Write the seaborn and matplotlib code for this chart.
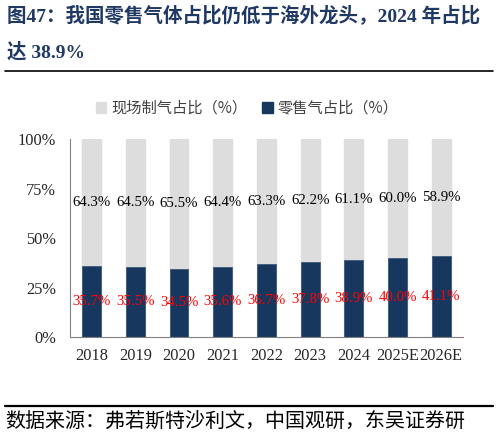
import matplotlib
matplotlib.use('Agg')
import matplotlib.pyplot as plt
import pandas as pd
import seaborn as sns
from matplotlib.lines import Line2D
from matplotlib.patches import Patch

# Dados do gráfico
years = ['2018', '2019', '2020', '2021', '2022', '2023', '2024', '2025E', '2026E']
retail = [35.7, 35.5, 34.5, 35.6, 36.7, 37.8, 38.9, 40.0, 41.1]
onsite = [64.3, 64.5, 65.5, 64.4, 63.3, 62.2, 61.1, 60.0, 58.9]
y_ticks = [0, 25, 50, 75, 100]
y_tick_labels = ['0%', '25%', '50%', '75%', '100%']

df = pd.DataFrame({'year': years, 'retail': retail, 'onsite': onsite})
df['total'] = df['retail'] + df['onsite']

sns.set_style('white')
plt.rcParams['font.family'] = ['Liberation Serif', 'Noto Sans CJK SC', 'DejaVu Sans']
cjk = ['Noto Sans CJK SC', 'DejaVu Sans']
mix = ['Liberation Serif', 'Noto Sans CJK SC', 'DejaVu Sans']

navy = '#17375E'
grey = '#DDDDDD'

fig = plt.figure(figsize=(4.99, 4.38), dpi=100)
ax = fig.add_axes([0.140, 0.2306, 0.788, 0.452])

# barras empilhadas: total (cinza) por baixo, varejo (azul) por cima
sns.barplot(data=df, x='year', y='total', color=grey, width=0.43, ax=ax,
            saturation=1, edgecolor=grey)
sns.barplot(data=df, x='year', y='retail', color=navy, width=0.43, ax=ax,
            saturation=1, edgecolor='#3E5A7E', linewidth=0.6)

for i, (r, o) in enumerate(zip(retail, onsite)):
    ax.text(i, r / 2, f'{r:.1f}%', ha='center', va='center', color='red', fontsize=10.7,
            family='Liberation Serif')
    ax.text(i, r + o / 2, f'{o:.1f}%', ha='center', va='center', color='black', fontsize=10.7,
            family='Liberation Serif')

ax.set_xlim(-0.5, len(years) - 0.5)
ax.set_ylim(0, 100)
ax.set_yticks(y_ticks)
ax.set_yticklabels(y_tick_labels)
ax.set_xlabel('')
ax.set_ylabel('')
ax.set_xticks([i - 0.5 for i in range(1, len(years) + 1)], minor=True)
ax.tick_params(axis='x', which='major', length=0, pad=8, labelsize=11.8)
ax.tick_params(axis='x', which='minor', length=3, width=0.8, color='#808080', direction='out')
ax.tick_params(axis='y', length=3, width=0.8, color='#808080', direction='out', pad=7, labelsize=11.8)
for lab in ax.get_xticklabels() + ax.get_yticklabels():
    lab.set_family('Liberation Serif')

sns.despine(ax=ax)
for s in ['left', 'bottom']:
    ax.spines[s].set_color('#808080')
    ax.spines[s].set_linewidth(0.8)

# legenda
handles = [Patch(facecolor=grey, edgecolor=grey), Patch(facecolor=navy, edgecolor=navy)]
fig.legend(handles, ['现场制气占比（%）', '零售气占比（%）'], loc='center',
           bbox_to_anchor=(0.495, 0.753), ncol=2, frameon=False,
           prop={'family': cjk, 'size': 11}, handlelength=0.7, handleheight=0.7,
           handletextpad=0.3, columnspacing=1.0, labelcolor='#404040')

# título e fonte
title_color = '#1F3864'
fig.text(0.014, 0.966, '图47：我国零售气体占比仍低于海外龙头，2024 年占比', ha='left', va='center',
         fontsize=14, fontweight='bold', color=title_color, family=mix)
fig.text(0.014, 0.881, '达 38.9%', ha='left', va='center',
         fontsize=14, fontweight='bold', color=title_color, family=mix)
fig.add_artist(Line2D([0.010, 0.988], [1 - 71 / 438, 1 - 71 / 438], color='black',
                      linewidth=1.2, transform=fig.transFigure))
fig.add_artist(Line2D([0.010, 0.988], [1 - 406 / 438, 1 - 406 / 438], color='black',
                      linewidth=1.6, transform=fig.transFigure))
fig.text(0.010, 1 - 421 / 438, '数据来源：弗若斯特沙利文，中国观研，东吴证券研', ha='left', va='center',
         fontsize=14.4, color='black', family=cjk)

fig.savefig('out.png', dpi=100)
